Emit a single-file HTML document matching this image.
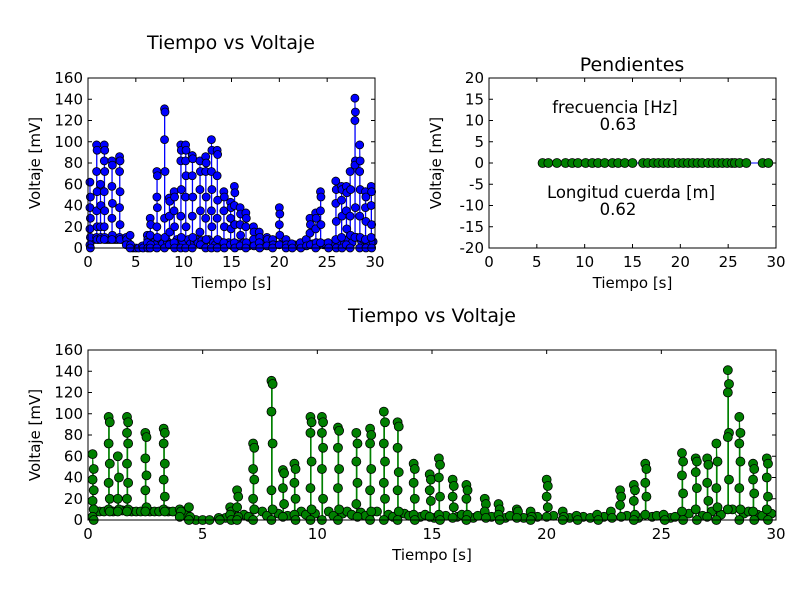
<!DOCTYPE html>
<html><head><meta charset="utf-8"><style>
body{margin:0;background:#fff}
svg{display:block;font-family:"DejaVu Sans","Liberation Sans",sans-serif}
</style></head><body>
<svg id="c" width="800" height="600" xmlns="http://www.w3.org/2000/svg"></svg>
<script>
// burst sample columns: time [s] and voltage values [mV]
const colTimes=[0.2,0.9,1.3,1.7,2.5,3.3,4.0,4.4,5.7,6.2,6.5,7.2,8.0,8.5,9.0,9.7,10.2,10.9,11.7,12.3,12.9,13.5,14.2,14.9,15.3,15.9,16.5,17.3,17.9,18.7,19.3,20.0,20.7,21.3,22.2,22.8,23.2,23.8,24.3,25.1,25.9,26.5,27.0,27.4,27.9,28.4,29.0,29.6];
const colValues=[
[62,48,38,28,18,10,3,0],[97,92,72,53,35,20,10,8],[60,40,20,10,8],[97,92,82,72,53,35,20,10,8],[82,78,58,42,28,12,8],[86,82,72,53,38,22,10,8],
[10,8,3],[12,3,0],[2,0],[12,8,5,0],[28,22,12,3,0],[72,68,48,38,20,10,0],[131,128,102,72,28,10,0],[47,44,30,15,3],[53,48,35,20,5,0],
[97,92,82,55,30,10,0],[97,92,82,68,48,20,0],[87,84,68,48,30,10,0],[82,72,55,35,15,3],[86,80,72,48,28,8,0],[102,92,72,55,35,20,0],[92,88,68,45,28,8,0],
[53,48,35,20,5,0],[43,38,28,18,3],[58,52,40,22,5,0],[38,32,22,12,2],[33,28,20,5,0],[20,15,8,2],[15,10,5,0],[10,8,2],[8,3,0],[38,32,22,12,3],
[8,3,0],[4,0],[5,0],[8,2],[28,22,14,3],[33,28,18,5,0],[53,48,35,22,5],[5,0],[63,55,42,25,8,0],[58,55,45,30,10,0],[58,52,35,18,3],[72,55,30,12,0],
[141,128,120,82,78,38,10],[97,82,72,55,30,10,0],[53,48,38,25,8,0],[58,53,40,22,10,0]];
// low-level background samples
const lowTimes=[0.5,0.7,1.1,1.5,1.9,2.1,2.3,2.7,2.9,3.1,3.5,3.7,4.2,4.7,5.0,5.3,6.0,6.8,7.0,7.6,7.8,8.3,8.7,9.3,9.5,9.9,10.5,10.7,11.1,11.3,11.5,11.9,12.1,12.6,13.1,13.3,13.8,14.0,14.5,14.7,15.1,15.6,16.1,16.3,16.8,17.0,17.6,18.2,18.4,19.0,19.6,20.3,21.0,21.6,21.9,22.5,23.5,24.0,24.6,24.8,25.4,25.6,26.2,26.8,27.2,27.6,28.1,28.6,28.8,29.2,29.4,29.8];
const lowValues=[8,8,8,9,8,8,8,8,8,8,8,8,5,0,0,0,2,5,3,8,4,6,4,8,5,6,8,4,6,8,5,7,4,8,5,3,6,4,3,5,2,4,3,5,2,4,3,2,4,2,3,4,2,3,2,3,4,2,3,4,2,3,6,4,8,5,10,6,8,5,4,6];
const slopeTimes=[5.6,6.2,7.1,8.0,8.7,9.3,10.1,10.8,11.4,12.1,12.9,13.5,14.2,15.0,16.1,16.6,17.2,17.7,18.2,18.7,19.2,19.8,20.3,20.8,21.3,21.8,22.3,22.9,23.4,23.9,24.4,24.9,25.4,25.7,26.2,26.9,28.6,29.2];
const slopeValues=slopeTimes.map(()=>0);
const xTicks=[0,5,10,15,20,25,30];
const yTicksV=[0,20,40,60,80,100,120,140,160];
const yTicksS=[-20,-15,-10,-5,0,5,10,15,20];

const NS="http://www.w3.org/2000/svg",svg=document.getElementById('c');
function el(t,a,p){const e=document.createElementNS(NS,t);for(const k in a)e.setAttribute(k,a[k]);(p||svg).appendChild(e);return e;}
function txt(s,x,y,a,p){const e=el('text',Object.assign({x:x,y:y,'font-size':15,'text-anchor':'middle',fill:'#000'},a||{}),p);e.textContent=s;return e;}

function axes(name,x0,y0,w,h,xmin,xmax,ymin,ymax,yt,title,tx,ty){
  const g=el('g',{});
  
  
  const sx=v=>x0+(v-xmin)/(xmax-xmin)*w, sy=v=>y0+h-(v-ymin)/(ymax-ymin)*h;
  el('rect',{x:x0,y:y0,width:w,height:h,fill:'#fff'},g);
  for(const t of xTicks){const X=sx(t);
    el('line',{x1:X,x2:X,y1:y0+h,y2:y0+h-4,stroke:'#000'},g);el('line',{x1:X,x2:X,y1:y0,y2:y0+4,stroke:'#000'},g);
    const l=txt(String(t),X,y0+h+19,{},g);}
  for(const t of yt){const Y=sy(t);
    el('line',{x1:x0,x2:x0+4,y1:Y,y2:Y,stroke:'#000'},g);el('line',{x1:x0+w,x2:x0+w-4,y1:Y,y2:Y,stroke:'#000'},g);
    const l=txt(String(t),x0-5,Y+5,{'text-anchor':'end'},g);}
  const t1=txt(title,tx,ty,{'font-size':19},g);
  const xl=txt('Tiempo [s]',x0+w/2,y0+h+40,{},g);
  const yx=x0-48,yy=y0+h/2;
  const yl=txt('Voltaje [mV]',yx,yy,{transform:`rotate(-90 ${yx} ${yy})`},g);
  return {g,sx,sy,frame:()=>el('rect',{x:x0,y:y0,width:w,height:h,fill:'none',stroke:'#000','stroke-width':1},g)};
}
function series(ax,color,r,name){
  const g=el('g',{},ax.g);
  
  
  const pts=[];
  colTimes.forEach((t,i)=>{const vs=colValues[i].slice().sort((a,b)=>a-b);
    vs.forEach(v=>pts.push([t,v]));vs.slice().reverse().forEach((v,j)=>{if(j>0)pts.push([t+0.03,v]);});});
  lowTimes.forEach((t,i)=>pts.push([t+0.01,lowValues[i]]));
  pts.sort((a,b)=>a[0]-b[0]);
  let d='';pts.forEach(p=>{d+=(d?'L':'M')+ax.sx(p[0]).toFixed(1)+','+ax.sy(p[1]).toFixed(1);});
  el('path',{d:d,fill:'none',stroke:color,'stroke-width':1},g);
  const draw=(t,v)=>{const c=el('circle',{cx:ax.sx(t),cy:ax.sy(v),r:r,fill:color,stroke:'#000','stroke-width':0.8},g);
    
    };
  lowTimes.forEach((t,i)=>draw(t,lowValues[i]));
  colTimes.forEach((t,i)=>{colValues[i].forEach((v,j)=>draw(t+(j%2)*0.05,v));});
}
const a1=axes('voltage-chart-top',88,78,287,170,0,30,0,160,yTicksV,'Tiempo vs Voltaje',231,49);
series(a1,'#0000ff',4,'voltage-series-blue');a1.frame();
const a2=axes('slopes-chart',489,78,287,170,0,30,-20,20,yTicksS,'Pendientes',632,71);
{const g=el('g',{},a2.g);
 
 
 let d='';slopeTimes.forEach((t,i)=>{d+=(i?'L':'M')+a2.sx(t)+','+a2.sy(slopeValues[i]);});
 el('path',{d:d,fill:'none',stroke:'#0000ff'},g);
 slopeTimes.forEach((t,i)=>{const c=el('circle',{cx:a2.sx(t),cy:a2.sy(slopeValues[i]),r:4.5,fill:'#008000',stroke:'#000','stroke-width':0.8},g);
  
  });
 const n1=txt('frecuencia [Hz]',615,113,{'font-size':16.5},a2.g);
 const n2=txt('0.63',618,130,{'font-size':16.5},a2.g);
 const n3=txt('Longitud cuerda [m]',631,198,{'font-size':16.5},a2.g);
 const n4=txt('0.62',618,215,{'font-size':16.5},a2.g);
}
a2.frame();
const a3=axes('voltage-chart-bottom',88,350,688,170,0,30,0,160,yTicksV,'Tiempo vs Voltaje',432,322);
series(a3,'#008000',4.5,'voltage-series-green');a3.frame();
</script>
</body></html>
